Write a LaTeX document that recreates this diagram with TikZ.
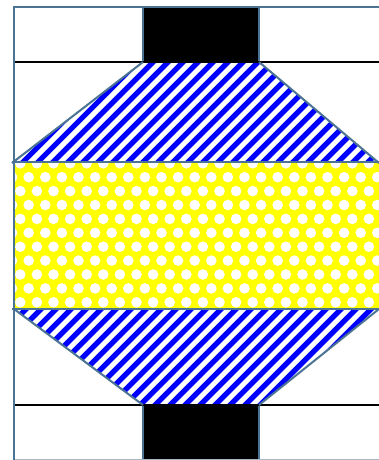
\documentclass[tikz,border=0pt]{standalone}
\usepackage{tikz}
\definecolor{edge}{HTML}{4A7394}
\definecolor{faint}{HTML}{A9B8C6}
\definecolor{stripe}{HTML}{0000FF}
\definecolor{lemon}{HTML}{FFFF00}

\begin{document}
\begin{tikzpicture}[x=1pt,y=-1pt,
  hatchline/.style={stripe,line width=5.3pt},
  outline/.style={edge,line width=2pt},
  blackbar/.style={black,line width=2.4pt}]
\fill[white] (0,0) rectangle (379,460);
\useasboundingbox (0,0) rectangle (379,460);
\begin{scope}
\clip (143,62)--(259,62)--(378,162)--(14,162)--cycle;
\foreach \x in {-480,-465,...,400}
{\draw[hatchline] (\x,470)--(\x+470,0);}
\end{scope}
\begin{scope}
\clip (14,309)--(379,309)--(259,405)--(143,405)--cycle;
\foreach \x in {-480,-465,...,400}
{\draw[hatchline] (\x,470)--(\x+470,0);}
\end{scope}
\begin{scope}
\clip (14,162) rectangle (379,309);
\fill[lemon] (14,162) rectangle (379,309);
\foreach \k in {0,...,11}
{\pgfmathsetmacro{\s}{mod(\k,2)==1 ? 12.1 : 3.7}
\foreach \m in {0,...,23}
{\fill[white] ({\s+16.6*\m},{163.3+13.9*\k}) circle (5.3);}}
\end{scope}
\foreach \y/\h in {7/62,405/460}
{\filldraw[fill=black,draw=edge,line width=1.5pt] (143,\y) rectangle (259,\h);}
\draw[blackbar] (14,62)--(379,62);
\draw[blackbar] (14,405)--(379,405);
\draw[faint,line width=1pt] (14,459)--(379,459);
\draw[outline] (379,7)--(14,7)--(14,460);
\draw[outline] (143,62)--(12,163);
\draw[outline] (259,62)--(379,163);
\draw[outline] (12,162)--(379,162);
\draw[outline] (12,309)--(379,309);
\draw[outline] (14,309)--(143,405);
\draw[outline] (379,309)--(259,405);
\end{tikzpicture}
\end{document}
